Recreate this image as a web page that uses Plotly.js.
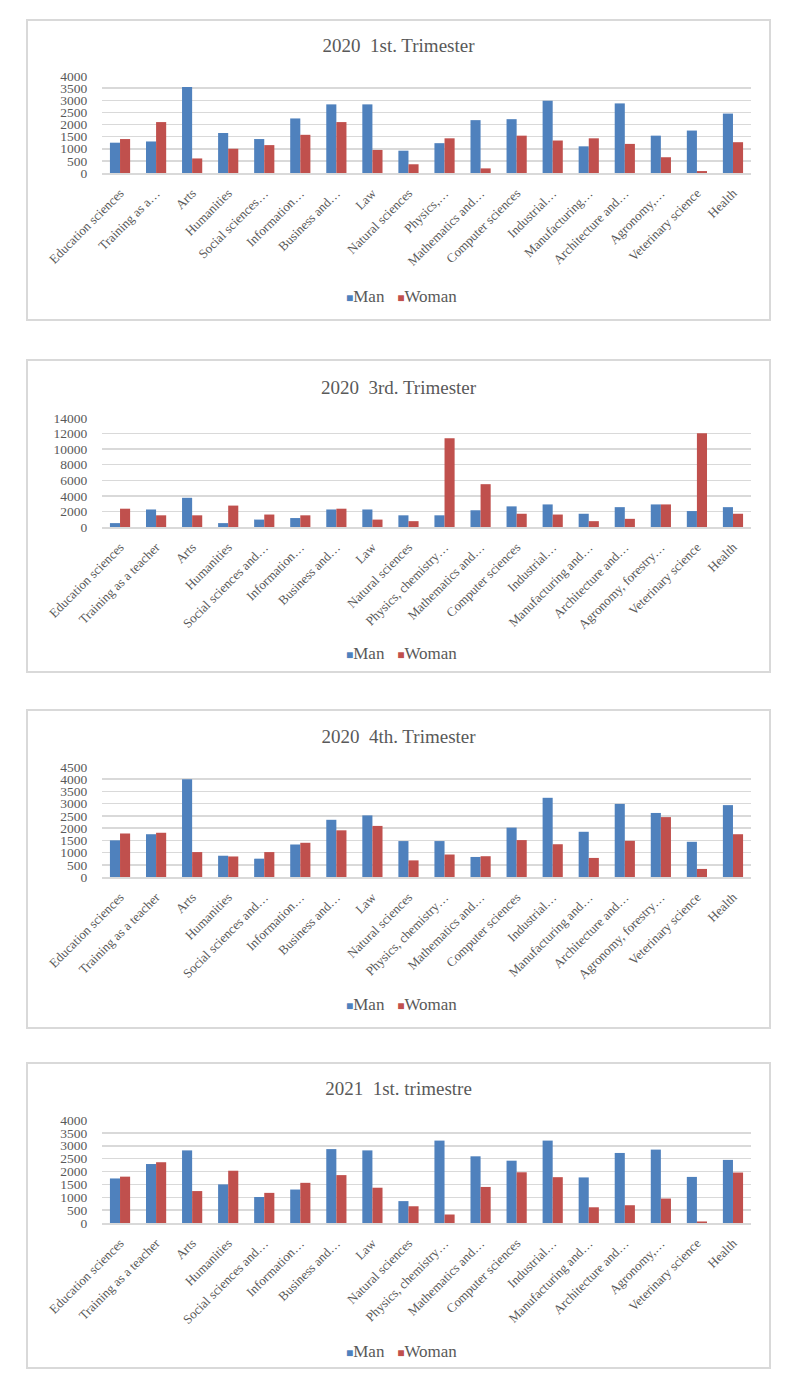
<!DOCTYPE html>
<html>
<head>
<meta charset="utf-8">
<script src="https://cdn.plot.ly/plotly-3.0.1.min.js"></script>
<style>
  html, body { margin: 0; padding: 0; background: #ffffff; }
  body { width: 800px; height: 1381px; position: relative; overflow: hidden; }
  .box { position: absolute; left: 26px; border: 2px solid #d9d9d9; background: #fff; }
</style>
</head>
<body>
<div class="box" id="b1" style="top:19px;"><div id="p1"></div></div>
<div class="box" id="b2" style="top:359px;"><div id="p2"></div></div>
<div class="box" id="b3" style="top:709px;"><div id="p3"></div></div>
<div class="box" id="b4" style="top:1062px;"><div id="p4"></div></div>
<script>
// Category tick labels (as truncated in each chart)
const cats1 = ["Education sciences","Training as a…","Arts","Humanities","Social sciences…","Information…","Business and…","Law","Natural sciences","Physics,…","Mathematics and…","Computer sciences","Industrial…","Manufacturing…","Architecture and…","Agronomy,…","Veterinary science","Health"];
const cats2 = ["Education sciences","Training as a teacher","Arts","Humanities","Social sciences and…","Information…","Business and…","Law","Natural sciences","Physics, chemistry…","Mathematics and…","Computer sciences","Industrial…","Manufacturing and…","Architecture and…","Agronomy, forestry…","Veterinary science","Health"];
const cats3 = ["Education sciences","Training as a teacher","Arts","Humanities","Social sciences and…","Information…","Business and…","Law","Natural sciences","Physics, chemistry…","Mathematics and…","Computer sciences","Industrial…","Manufacturing and…","Architecture and…","Agronomy, forestry…","Veterinary science","Health"];
const cats4 = ["Education sciences","Training as a teacher","Arts","Humanities","Social sciences and…","Information…","Business and…","Law","Natural sciences","Physics, chemistry…","Mathematics and…","Computer sciences","Industrial…","Manufacturing and…","Architecture and…","Agronomy,…","Veterinary science","Health"];

// 2020 1st. Trimester
const man1   = [1250,1300,3550,1650,1400,2250,2830,2830,920,1230,2180,2220,2980,1100,2870,1540,1750,2450];
const woman1 = [1400,2100,600,1000,1150,1575,2100,950,360,1430,190,1540,1340,1430,1200,650,80,1270];
// 2020 3rd. Trimester
const man2   = [500,2250,3750,500,950,1150,2250,2250,1500,1500,2150,2650,2900,1700,2550,2900,2050,2550];
const woman2 = [2350,1500,1500,2750,1600,1500,2350,950,750,11400,5500,1700,1600,750,1050,2900,12050,1700];
// 2020 4th. Trimester
const man3   = [1500,1750,4000,870,750,1330,2340,2520,1470,1470,820,2020,3240,1850,2990,2620,1440,2940];
const woman3 = [1780,1810,1020,840,1020,1400,1910,2090,680,920,850,1510,1340,780,1480,2450,330,1750];
// 2021 1st. trimestre
const man4   = [1730,2290,2820,1500,1010,1300,2870,2820,850,3200,2590,2420,3200,1770,2720,2850,1790,2450];
const woman4 = [1800,2360,1240,2030,1170,1560,1860,1370,650,330,1400,1970,1780,610,690,950,60,1960];

const titles = ["2020\u00a0 1st. Trimester","2020\u00a0 3rd. Trimester","2020\u00a0 4th. Trimester","2021\u00a0 1st. trimestre"];
const seriesNames = ["Man","Woman"];
const yMax = [4000,14000,4500,4000];
const yStep = [500,2000,500,500];

const BLUE = "#4f81bd", RED = "#c0504d", TXT = "#595959", GRID = "#d9d9d9";
const FONT = "Liberation Serif, Times New Roman, serif";

const panels = [
  {id:"p1", cats:cats1, man:man1, woman:woman1, h:298, t:55, b:146, ty:24, ly:275},
  {id:"p2", cats:cats2, man:man2, woman:woman2, h:310, t:57, b:144, ty:26, ly:292},
  {id:"p3", cats:cats3, man:man3, woman:woman3, h:316, t:56, b:150, ty:25, ly:293},
  {id:"p4", cats:cats4, man:man4, woman:woman4, h:303, t:56, b:144, ty:24, ly:287}
];

panels.forEach((p, i) => {
  const W = 741;
  const traces = [
    {type:"bar", name:seriesNames[0], x:p.cats, y:p.man, marker:{color:BLUE}},
    {type:"bar", name:seriesNames[1], x:p.cats, y:p.woman, marker:{color:RED}}
  ];
  const legendText =
    '<span style="color:' + BLUE + ';font-size:12px">■</span>' + seriesNames[0] +
    '\u00a0\u00a0\u00a0<span style="color:' + RED + ';font-size:12px">■</span>' + seriesNames[1];
  const layout = {
    width: W, height: p.h,
    margin: {l:74, r:18, t:p.t, b:p.b, pad:0},
    paper_bgcolor: "#ffffff", plot_bgcolor: "#ffffff",
    font: {family: FONT, color: TXT, size: 14},
    title: {text: titles[i], font:{family:FONT, size:19, color:TXT},
            x: 0.5, xanchor:"center", xref:"container",
            y: 1 - p.ty / p.h, yanchor:"middle", yref:"container"},
    barmode: "group", bargap: 0.44, bargroupgap: 0,
    showlegend: false,
    annotations: [{
      text: legendText, showarrow:false, xref:"paper", yref:"paper",
      x: (401 - 28 - 74) / (W - 74 - 18), xanchor:"center",
      y: -(p.ly - (p.h - p.b)) / (p.h - p.t - p.b), yanchor:"middle",
      font:{family:FONT, size:17, color:TXT}
    }],
    xaxis: {type:"category", tickangle:-45, tickfont:{family:FONT, size:13, color:TXT},
            showgrid:false, showline:true, linecolor:GRID, linewidth:1.5,
            ticks:"outside", ticklen:6, tickcolor:"rgba(0,0,0,0)", automargin:false, fixedrange:true},
    yaxis: {range:[0, yMax[i]], dtick:yStep[i], tick0:0, tickformat:"d",
            showgrid:true, gridcolor:GRID, gridwidth:1.5,
            zeroline:false, showline:false, tickfont:{family:FONT, size:13.5, color:TXT},
            ticks:"outside", ticklen:11, tickcolor:"rgba(0,0,0,0)", automargin:false, fixedrange:true}
  };
  Plotly.newPlot(p.id, traces, layout, {staticPlot:true, displayModeBar:false});
});
</script>
</body>
</html>
